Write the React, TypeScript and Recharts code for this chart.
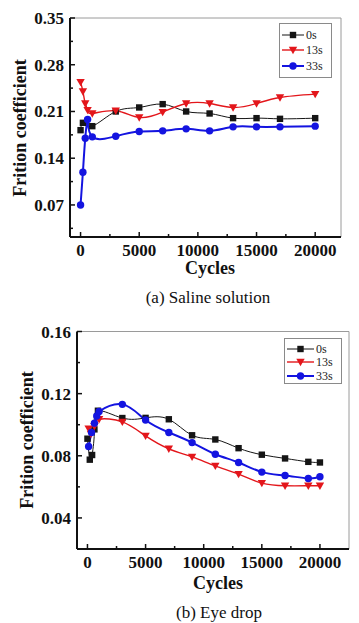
import { LineChart, Line, XAxis, YAxis, ReferenceLine } from 'recharts';

const FONT = "Liberation Serif, DejaVu Serif, Times New Roman, serif";

// (a) Saline solution
const cycles0sA = [0, 200, 1000, 3000, 5000, 7000, 9000, 11000, 13000, 15000, 17000, 20000];
const cof0sA = [0.182, 0.193, 0.188, 0.21, 0.216, 0.221, 0.21, 0.207, 0.2, 0.2, 0.199, 0.2];
const cycles13sA = [0, 200, 400, 600, 1000, 3000, 5000, 7000, 9000, 11000, 13000, 15000, 17000, 20000];
const cof13sA = [0.254, 0.24, 0.222, 0.212, 0.207, 0.211, 0.201, 0.209, 0.222, 0.222, 0.216, 0.222, 0.231, 0.236];
const cycles33sA = [0, 200, 400, 600, 1000, 3000, 5000, 7000, 9000, 11000, 13000, 15000, 17000, 20000];
const cof33sA = [0.07, 0.119, 0.17, 0.198, 0.172, 0.173, 0.18, 0.181, 0.184, 0.181, 0.187, 0.187, 0.187, 0.188];

// (b) Eye drop
const cycles0sB = [0, 200, 400, 600, 900, 3000, 5000, 7000, 9000, 11000, 13000, 15000, 17000, 19000, 20000];
const cof0sB = [0.091, 0.0775, 0.0805, 0.097, 0.109, 0.1043, 0.1044, 0.1035, 0.0932, 0.0905, 0.0849, 0.0807, 0.0783, 0.0761, 0.0757];
const cycles13sB = [100, 300, 600, 1000, 3000, 5000, 7000, 9000, 11000, 13000, 15000, 17000, 19000, 20000];
const cof13sB = [0.0975, 0.094, 0.099, 0.1035, 0.1018, 0.0928, 0.0845, 0.0793, 0.0735, 0.0682, 0.0624, 0.0607, 0.0607, 0.0607];
const cycles33sB = [100, 350, 600, 800, 1000, 3000, 5000, 7000, 9000, 11000, 13000, 15000, 17000, 19000, 20000];
const cof33sB = [0.086, 0.095, 0.101, 0.1056, 0.1085, 0.1131, 0.103, 0.095, 0.0885, 0.081, 0.0757, 0.0695, 0.0673, 0.0654, 0.0665];

const seriesNames = ['0s', '13s', '33s'];
const xMajor = [0, 5000, 10000, 15000, 20000];
const xMinor = [2500, 7500, 12500, 17500];
const yMajorA = [0.07, 0.14, 0.21, 0.28, 0.35];
const yMinorA = [0.035, 0.105, 0.175, 0.245, 0.315];
const yMajorB = [0.04, 0.08, 0.12, 0.16];
const yMinorB = [0.02, 0.06, 0.1, 0.14];

const BLACK = '#151515';
const RED = '#e3161b';
const BLUE = '#1414e0';

const toPoints = (xs: number[], ys: number[]) => xs.map((x, i) => ({ x, y: ys[i] }));

const Marker = ({ kind, cx, cy, color }: { kind: string; cx: number; cy: number; color: string }) => {
  if (kind === 'square') return <rect x={cx - 3.2} y={cy - 3.2} width={6.4} height={6.4} fill={color} />;
  if (kind === 'tri') return <polygon points={`${cx - 4.2},${cy - 3.2} ${cx + 4.2},${cy - 3.2} ${cx},${cy + 4.2}`} fill={color} />;
  return <circle cx={cx} cy={cy} r={3.7} fill={color} />;
};

const dotFor = (kind: string, color: string) => (p: any) =>
  <Marker key={`${kind}-${p.index}`} kind={kind} cx={p.cx} cy={p.cy} color={color} />;

const xTick = (p: any) => {
  const v = p.payload.value;
  const major = xMajor.includes(v);
  return (
    <g>
      <line x1={p.x} x2={p.x} y1={p.y} y2={p.y - (major ? 5 : 3)} stroke="#111" strokeWidth={1.5} />
      {major && (
        <text x={p.x} y={p.y + 19} textAnchor="middle" style={{ fontFamily: FONT }} fontWeight="bold" fontSize={17} fill="#111">
          {v}
        </text>
      )}
    </g>
  );
};

const yTick = (majors: number[]) => (p: any) => {
  const v = p.payload.value;
  const major = majors.some((m) => Math.abs(m - v) < 1e-9);
  return (
    <g>
      <line x1={p.x} x2={p.x + (major ? 5 : 3)} y1={p.y} y2={p.y} stroke="#111" strokeWidth={1.5} />
      {major && (
        <text x={p.x - 6} y={p.y + 6} textAnchor="end" style={{ fontFamily: FONT }} fontWeight="bold" fontSize={17} fill="#111">
          {v.toFixed(2)}
        </text>
      )}
    </g>
  );
};

const LegendBox = ({ left, top, width, height, gap, lineLen }: any) => {
  const items = [
    { kind: 'square', color: BLACK, w: 1 },
    { kind: 'tri', color: RED, w: 1.4 },
    { kind: 'circle', color: BLUE, w: 2 },
  ];
  return (
    <div
      style={{
        position: 'absolute', left, top, width, height, boxSizing: 'border-box',
        border: '1px solid #8a8a8a', background: '#fff', paddingTop: 3,
      }}
    >
      {items.map((it, i) => (
        <div key={i} style={{ display: 'flex', alignItems: 'center', height: gap, marginLeft: 2 }}>
          <svg width={lineLen} height={10}>
            <line x1={0} x2={lineLen} y1={5} y2={5} stroke={it.color} strokeWidth={it.w} />
            <Marker kind={it.kind} cx={lineLen / 2} cy={5} color={it.color} />
          </svg>
          <span style={{ fontFamily: FONT, fontSize: 12, color: '#222', marginLeft: 2, lineHeight: 1 }}>
            {seriesNames[i]}
          </span>
        </div>
      ))}
    </div>
  );
};

const Title = ({ text, x, y, size, bold, rotate }: any) => (
  <div
    style={{
      position: 'absolute', left: x, top: y, transform: `translate(-50%, -50%)${rotate ? ' rotate(-90deg)' : ''}`,
      whiteSpace: 'nowrap', fontFamily: FONT, fontSize: size, fontWeight: bold ? 'bold' : 'normal', color: '#111',
      lineHeight: 1,
    }}
  >
    {text}
  </div>
);

const Panel = ({ top, height, yWidth, rightMargin, topMargin, xDomain, yDomain, yMajor, yMinor, data }: any) => (
  <div style={{ position: 'absolute', left: 0, top }}>
    <LineChart width={359} height={height} margin={{ top: topMargin, right: rightMargin, bottom: 0, left: 0 }}>
      <XAxis
        type="number" dataKey="x" domain={xDomain} allowDataOverflow ticks={[...xMajor, ...xMinor]} interval={0}
        tick={xTick} tickLine={false} tickSize={0} tickMargin={0} height={30}
        axisLine={{ stroke: '#111', strokeWidth: 2 }}
      />
      <YAxis
        type="number" dataKey="y" domain={yDomain} allowDataOverflow ticks={[...yMajor, ...yMinor]} interval={0}
        tick={yTick(yMajor)} tickLine={false} tickSize={0} tickMargin={0} width={yWidth}
        axisLine={{ stroke: '#111', strokeWidth: 2 }}
      />
      <ReferenceLine y={yDomain[1]} stroke="#9a9a9a" strokeWidth={1} />
      <ReferenceLine x={xDomain[1]} stroke="#9a9a9a" strokeWidth={1} />
      <Line data={data[0]} dataKey="y" type="natural" stroke={BLACK} strokeWidth={1} dot={dotFor('square', BLACK)} isAnimationActive={false} />
      <Line data={data[1]} dataKey="y" type="natural" stroke={RED} strokeWidth={1.4} dot={dotFor('tri', RED)} isAnimationActive={false} />
      <Line data={data[2]} dataKey="y" type="natural" stroke={BLUE} strokeWidth={2} dot={dotFor('circle', BLUE)} isAnimationActive={false} />
    </LineChart>
  </div>
);

export default function App() {
  const dataA = [toPoints(cycles0sA, cof0sA), toPoints(cycles13sA, cof13sA), toPoints(cycles33sA, cof33sA)];
  const dataB = [toPoints(cycles0sB, cof0sB), toPoints(cycles13sB, cof13sB), toPoints(cycles33sB, cof33sB)];
  return (
    <div style={{ position: 'absolute', left: 0, top: 0, width: 359, height: 623, background: '#fff', overflow: 'hidden', fontFamily: FONT }}>
      <Panel
        top={0} height={267} yWidth={70} rightMargin={18} topMargin={18}
        xDomain={[-900, 22200]} yDomain={[0.022, 0.35]} yMajor={yMajorA} yMinor={yMinorA} data={dataA}
      />
      <LegendBox left={279} top={23} width={53} height={55} gap={15.5} lineLen={22} />
      <Title text="Frition coefficient" x={20} y={128} size={18} bold rotate />
      <Title text="Cycles" x={210} y={268} size={18} bold />
      <Title text="(a) Saline solution" x={208} y={297} size={17} />

      <Panel
        top={310} height={269} yWidth={77} rightMargin={10} topMargin={21.5}
        xDomain={[-900, 22500]} yDomain={[0.02, 0.16]} yMajor={yMajorB} yMinor={yMinorB} data={dataB}
      />
      <LegendBox left={284} top={338} width={58} height={46} gap={13.5} lineLen={27} />
      <Title text="Frition coefficient" x={27} y={440} size={18} bold rotate />
      <Title text="Cycles" x={218} y={583} size={18} bold />
      <Title text="(b) Eye drop" x={219} y={612} size={17} />
    </div>
  );
}
